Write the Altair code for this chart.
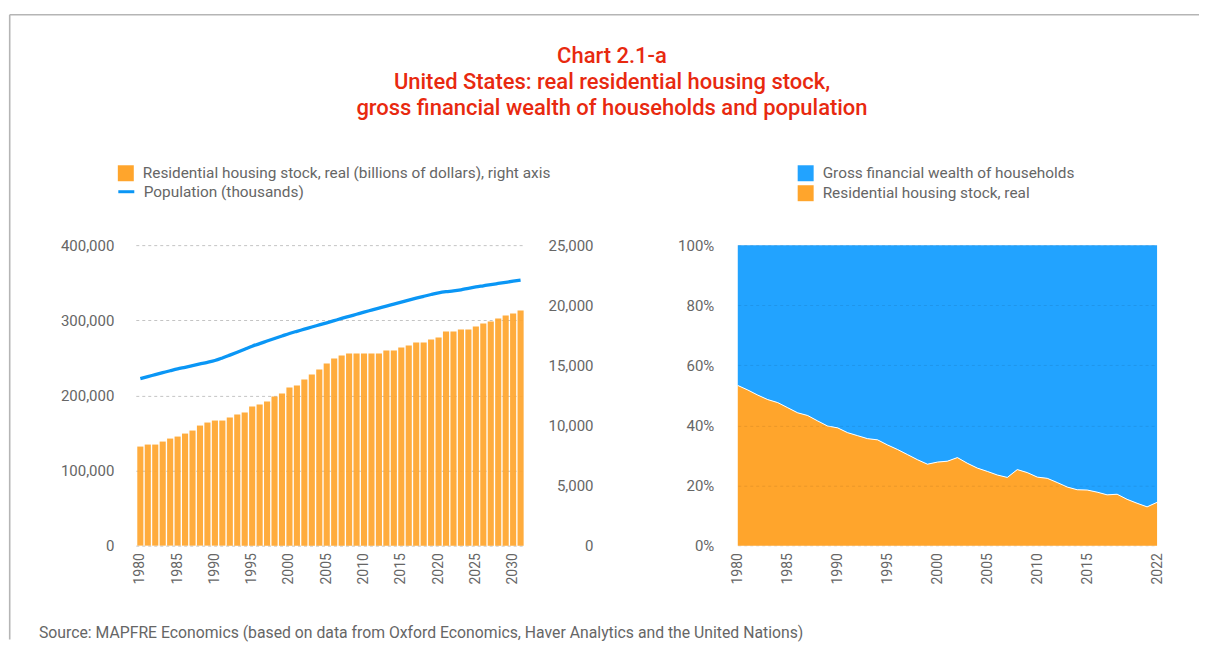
import altair as alt
import pandas as pd

FONT = "Roboto"
ORANGE = "#FFA52C"
BLUE_AREA = "#22A3FF"
BLUE_LINE = "#0A96F5"
TEXT = "#666666"
RED = "#E8290F"
FRAME = "#b5b5b5"

TITLE_LINES = [
    "Chart 2.1-a",
    "United States: real residential housing stock,",
    "gross financial wealth of households and population",
]
SOURCE = "Source: MAPFRE Economics (based on data from Oxford Economics, Haver Analytics and the United Nations)"

BAR_LABEL = "Residential housing stock, real (billions of dollars), right axis"
LINE_LABEL = "Population (thousands)"
FIN_LABEL = "Gross financial wealth of households"
RES_LABEL = "Residential housing stock, real"

# ---- left panel data ----
years_left = list(range(1980, 2032))
housing_stock = [
    8242, 8408, 8408, 8658, 8908, 9074, 9324, 9574, 9990, 10240,
    10406, 10406, 10656, 10906, 11072, 11572, 11738, 11988, 12404, 12654,
    13154, 13320, 13820, 14236, 14652, 15152, 15568, 15818, 15984, 15984,
    15984, 15984, 15984, 16234, 16234, 16484, 16650, 16900, 16900, 17150,
    17316, 17816, 17816, 17982, 17982, 18232, 18482, 18648, 18898, 19148,
    19314, 19564,
]
population = [
    222400, 225000, 227600, 230200, 232800, 235300, 237400, 239600, 241800, 244000,
    246400, 249800, 253600, 257500, 261500, 265500, 268900, 272400, 275800, 279100,
    282400, 285300, 288100, 291000, 293800, 296600, 299500, 302400, 305200, 308000,
    310800, 313500, 316200, 318900, 321500, 324100, 326800, 329400, 331900, 334300,
    336500, 338000, 339000, 340500, 342500, 344300, 345900, 347500, 349000, 350500,
    352000, 353400,
]
left_x_ticks = list(range(1980, 2031, 5))
left_y_ticks = [0, 100000, 200000, 300000, 400000]
right_axis_ticks = [0, 5000, 10000, 15000, 20000, 25000]

# ---- right panel data ----
years_right = list(range(1980, 2023))
residential_share = [
    53.3, 51.8, 50.1, 48.6, 47.6, 45.9, 44.2, 43.3, 41.5, 39.8,
    39.2, 37.6, 36.6, 35.6, 35.2, 33.5, 32.0, 30.3, 28.6, 27.1,
    27.8, 28.1, 29.3, 27.4, 25.8, 24.7, 23.5, 22.7, 25.3, 24.3,
    22.8, 22.4, 21.0, 19.5, 18.6, 18.5, 17.8, 16.9, 17.1, 15.4,
    14.1, 12.9, 14.4,
]
financial_share = [round(100 - v, 1) for v in residential_share]
right_x_ticks = [1980, 1985, 1990, 1995, 2000, 2005, 2010, 2015, 2022]
pct_ticks = [0, 20, 40, 60, 80, 100]

# ================= LEFT PANEL =================
df_left = pd.DataFrame({"year": years_left, "housing": housing_stock, "population": population})
df_left["bar_series"] = BAR_LABEL
df_left["line_series"] = LINE_LABEL

x_left = alt.X(
    "year:O",
    scale=alt.Scale(paddingInner=0.18, paddingOuter=0.2),
    axis=alt.Axis(values=left_x_ticks, labelAngle=-90, title=None, ticks=False,
                  domain=False, labelPadding=7, labelFontSize=14, grid=False),
)

legend_common = dict(orient="none", title=None, padding=0, labelFont=FONT,
                     labelFontSize=15.4, labelColor=TEXT, labelOffset=8, symbolSize=256)

bars = alt.Chart(df_left).mark_bar(opacity=0.92).encode(
    x=x_left,
    y=alt.Y("housing:Q", scale=alt.Scale(domain=[0, 25000], nice=False),
            axis=alt.Axis(orient="right", values=right_axis_ticks, format=",d", grid=False,
                          ticks=False, tickSize=0, domain=False, labelAlign="right",
                          labelPadding=68, title=None)),
    color=alt.Color("bar_series:N", scale=alt.Scale(domain=[BAR_LABEL], range=[ORANGE]),
                    legend=alt.Legend(legendX=-19, legendY=-81, symbolType="square",
                                      symbolOpacity=1, **legend_common)),
)

line = alt.Chart(df_left).mark_line(strokeWidth=3.3, interpolate="monotone").encode(
    x=x_left,
    y=alt.Y("population:Q", scale=alt.Scale(domain=[0, 400000], nice=False),
            axis=alt.Axis(orient="left", values=left_y_ticks, format=",d", grid=True,
                          gridDash=[3, 3], gridColor="#c4c4c4", ticks=False, tickSize=0,
                          domain=False, labelPadding=22, title=None)),
    stroke=alt.Stroke("line_series:N", scale=alt.Scale(domain=[LINE_LABEL], range=[BLUE_LINE]),
                      legend=alt.Legend(legendX=-19, legendY=-63, symbolType="stroke",
                                        symbolStrokeWidth=3, **legend_common)),
)

one = pd.DataFrame({"k": [0]})
frame_v = alt.Chart(one).mark_rule(color=FRAME, strokeWidth=1.6).encode(
    x=alt.value(-126.3), y=alt.value(-230.8), y2=alt.value(395))
frame_h = alt.Chart(one).mark_rule(color=FRAME, strokeWidth=1.6).encode(
    x=alt.value(-126.3), x2=alt.value(1065), y=alt.value(-230.8))

title_y = [-182.5, -156.5, -130.5]
title_marks = [
    alt.Chart(pd.DataFrame({"t": [t]})).mark_text(
        align="center", baseline="alphabetic", font=FONT, fontSize=22, fontWeight=500, color=RED
    ).encode(text="t:N", x=alt.value(477), y=alt.value(yy))
    for t, yy in zip(TITLE_LINES, title_y)
]
source_mark = alt.Chart(pd.DataFrame({"t": [SOURCE]})).mark_text(
    align="left", baseline="alphabetic", font=FONT, fontSize=15.8, color=TEXT
).encode(text="t:N", x=alt.value(-97), y=alt.value(394))

left = alt.layer(frame_v, frame_h, *title_marks, source_mark, bars, line).resolve_scale(
    y="independent", color="independent"
).properties(width=390, height=301)

# ================= RIGHT PANEL =================
df_right = pd.DataFrame({
    "year": years_right * 2,
    "value": residential_share + financial_share,
    "series": [RES_LABEL] * len(years_right) + [FIN_LABEL] * len(years_right),
    "ord": [0] * len(years_right) + [1] * len(years_right),
})
df_res = pd.DataFrame({"year": years_right, "value": residential_share})

x_right = alt.X("year:Q", scale=alt.Scale(domain=[1980, 2022], nice=False, zero=False),
                axis=alt.Axis(values=right_x_ticks, format="d", labelAngle=-90, ticks=False,
                              domain=False, grid=False, labelPadding=7, labelFontSize=14,
                              title=None))
right_y_axis = alt.Axis(values=pct_ticks, labelExpr="datum.value + '%'", grid=True,
                        gridDash=[3, 3], gridColor="#000000", gridOpacity=0.09, zindex=1,
                        ticks=False, tickSize=0, domain=False, labelPadding=24, title=None)

area = alt.Chart(df_right).mark_area(opacity=1).encode(
    x=x_right,
    y=alt.Y("value:Q", stack="zero", scale=alt.Scale(domain=[0, 100], nice=False), axis=right_y_axis),
    color=alt.Color("series:N", scale=alt.Scale(domain=[FIN_LABEL, RES_LABEL], range=[BLUE_AREA, ORANGE]),
                    legend=alt.Legend(legendX=662, legendY=-81, symbolType="square", rowPadding=2,
                                      **legend_common)),
    order=alt.Order("ord:Q"),
)
edge = alt.Chart(df_res).mark_line(color="white", strokeWidth=1).encode(
    x=x_right,
    y=alt.Y("value:Q", scale=alt.Scale(domain=[0, 100], nice=False), axis=right_y_axis),
)

right = alt.layer(area, edge).properties(width=420, height=301)

chart = alt.HConcatChart(hconcat=[left, right], spacing=213, bounds="flush").properties(
    padding={"left": 0, "top": 5, "right": 0, "bottom": 0},
    background="white",
).configure_view(stroke=None).configure_axis(
    labelFont=FONT, labelFontSize=15, labelColor=TEXT
).configure_legend(labelLimit=0)

chart.save("out.html", embed_options={"renderer": "svg", "actions": False})
